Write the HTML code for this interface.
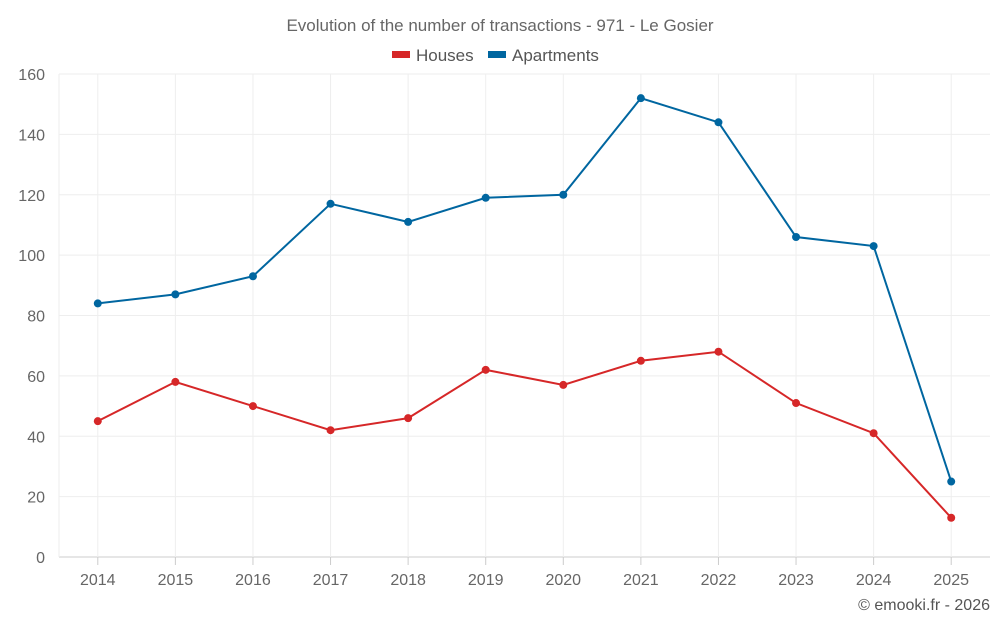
<!DOCTYPE html>
<html><head><meta charset="utf-8"><style>
html,body{margin:0;padding:0;background:#fff;}
svg{display:block;font-family:"Liberation Sans",sans-serif;}
</style></head><body>
<svg id="chart" width="1000" height="625">
<text x="500" y="31" text-anchor="middle" font-size="17" fill="#666">Evolution of the number of transactions - 971 - Le Gosier</text>
<g>
<g><rect x="392" y="51" width="18" height="7" fill="#d62728"/><text x="416" y="61" font-size="17" fill="#555">Houses</text></g>
<g><rect x="488" y="51" width="18" height="7" fill="#0066a0"/><text x="512" y="61" font-size="17" fill="#555">Apartments</text></g>
</g>
<g id="grid"></g><g id="axes"></g><g id="series"></g>
<text x="990" y="610" text-anchor="end" font-size="16" fill="#555">© emooki.fr - 2026</text>
</svg>
<script>
const categories=["2014","2015","2016","2017","2018","2019","2020","2021","2022","2023","2024","2025"];
const houses=[45,58,50,42,46,62,57,65,68,51,41,13];
const apartments=[84,87,93,117,111,119,120,152,144,106,103,25];
const yTicks=[0,20,40,60,80,100,120,140,160];
const NS="http://www.w3.org/2000/svg";
const L=59,R=990,T=74,B=557,yMax=160;
const bw=(R-L)/categories.length;
const x=i=>L+bw*(i+0.5);
const y=v=>B-(v/yMax)*(B-T);
function mk(t,a,p){const e=document.createElementNS(NS,t);for(const k in a)e.setAttribute(k,a[k]);p.appendChild(e);return e;}
const grid=document.getElementById('grid'),axes=document.getElementById('axes'),ser=document.getElementById('series');
yTicks.forEach(v=>{
 const g=mk('line',{x1:L,x2:R,y1:y(v),y2:y(v),stroke:v===0?'#ccc':'#eee','stroke-width':1},grid);
 
 
 const t=mk('text',{x:45,y:y(v)+6,'text-anchor':'end','font-size':16,fill:'#666'},axes);
 t.textContent=v;
 
 
});
mk('line',{x1:L,x2:L,y1:T,y2:B,stroke:'#eee'},grid);
categories.forEach((c,i)=>{
 const g=mk('line',{x1:x(i),x2:x(i),y1:T,y2:B,stroke:'#eee'},grid);
 
 
 const tk=mk('line',{x1:x(i),x2:x(i),y1:B,y2:B+8,stroke:'#ccc'},axes);
 
 
 const t=mk('text',{x:x(i),y:585,'text-anchor':'middle','font-size':16,fill:'#666'},axes);
 t.textContent=c;
 
 
});
function draw(data,color,name){
 const p=mk('polyline',{points:data.map((v,i)=>x(i)+','+y(v)).join(' '),fill:'none',stroke:color,'stroke-width':2},ser);
 
 
 data.forEach((v,i)=>{
  const c=mk('circle',{cx:x(i),cy:y(v),r:4,fill:color},ser);
  
  
 });
}
draw(apartments,'#0066a0','apartments');
draw(houses,'#d62728','houses');
</script>
</body></html>
